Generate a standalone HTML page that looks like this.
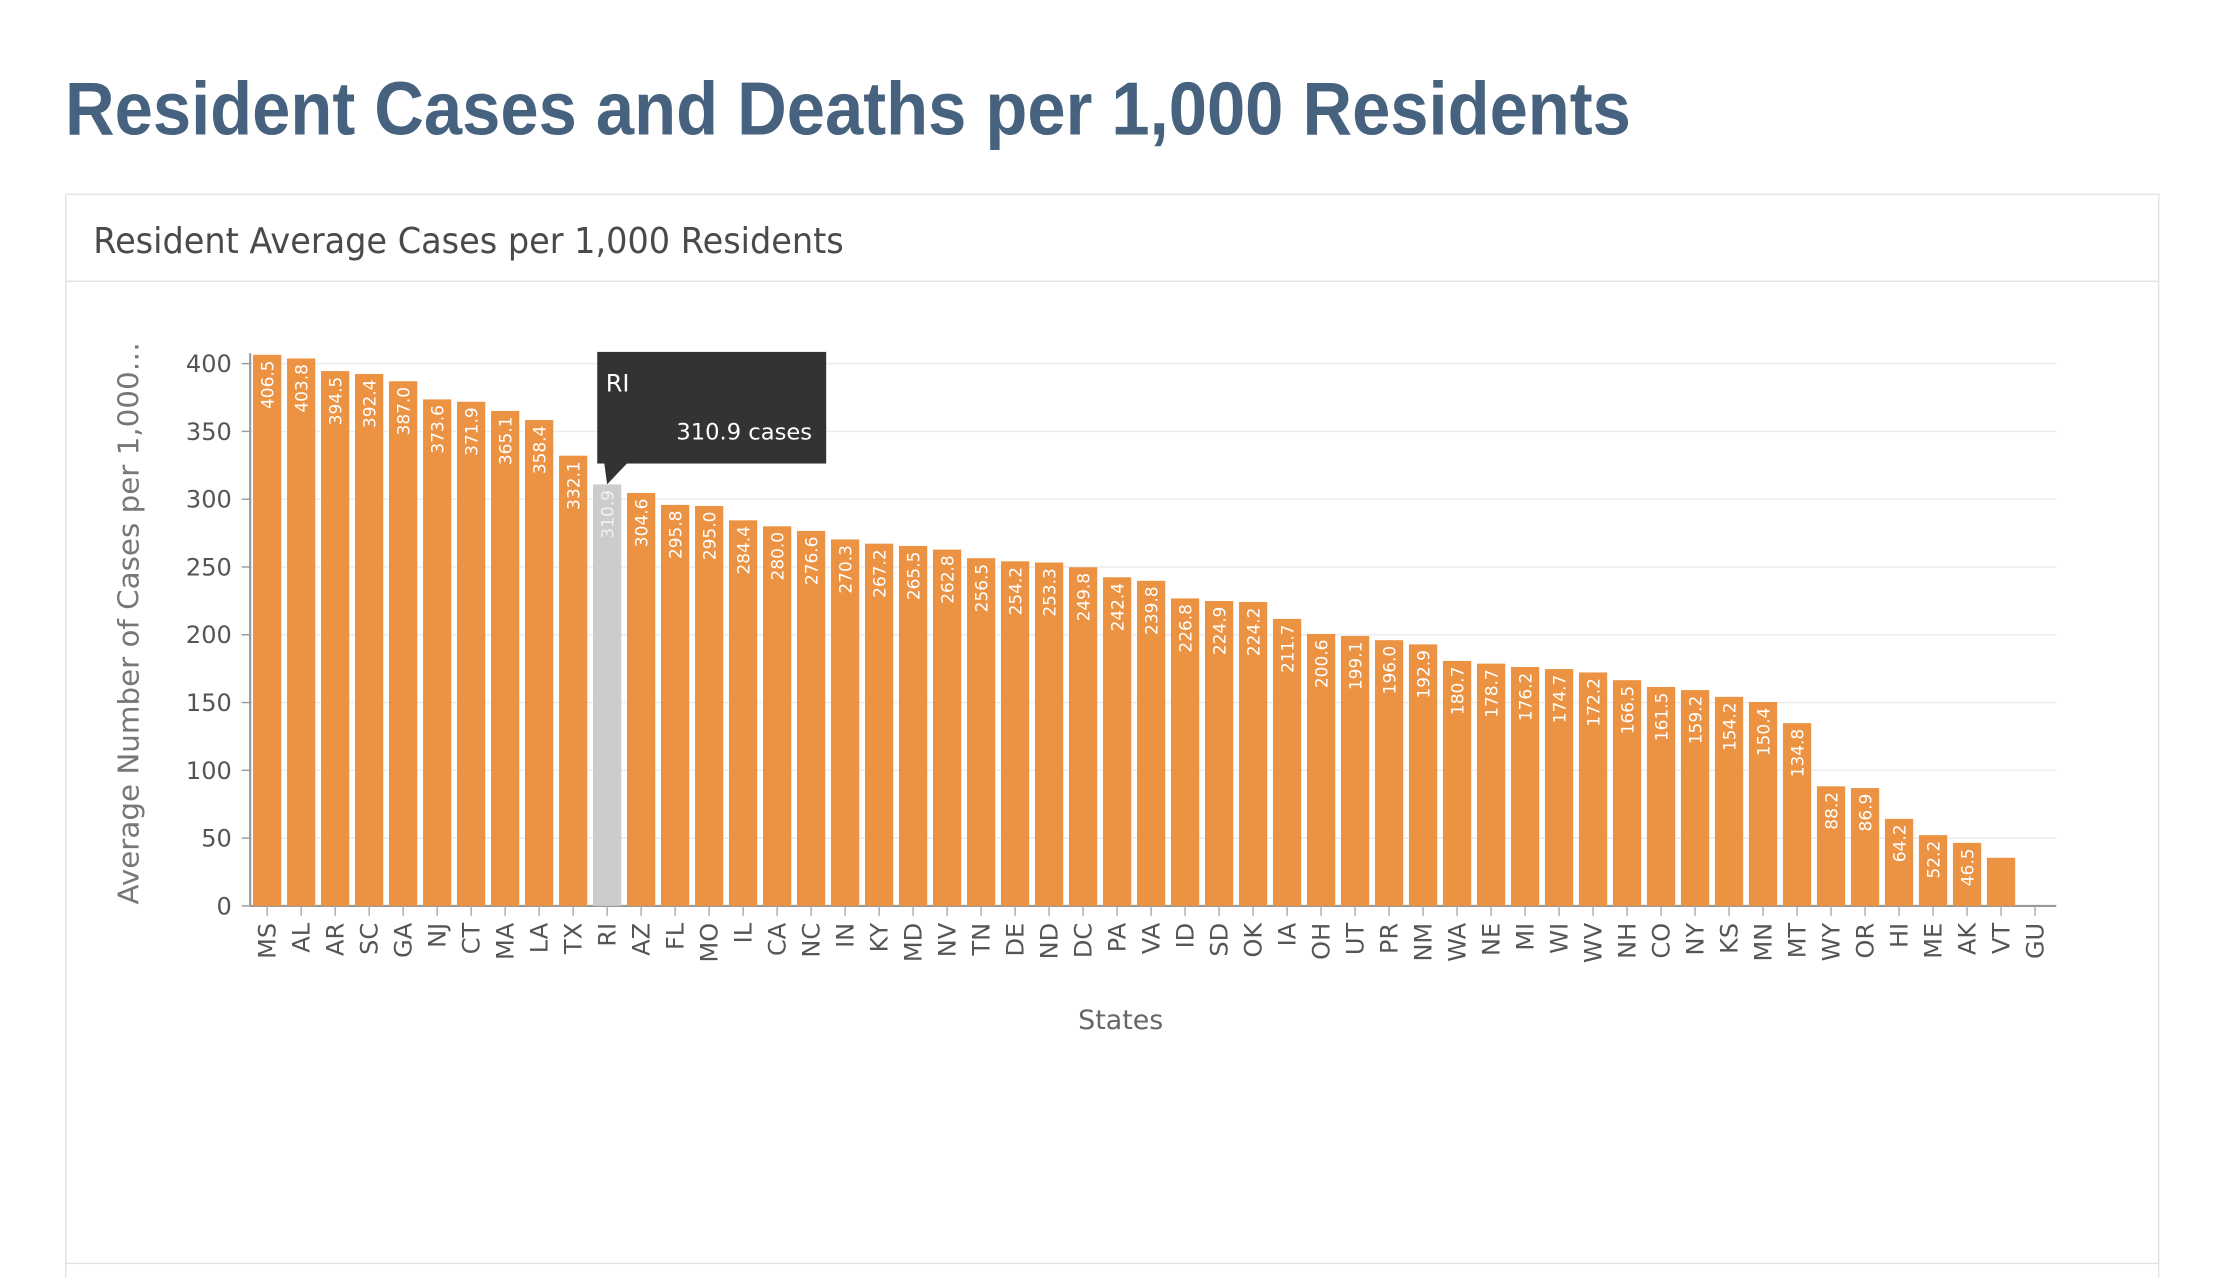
<!DOCTYPE html>
<html><head><meta charset="utf-8"><style>
html,body{margin:0;padding:0;background:#fff;}
svg{display:block;font-family:"DejaVu Sans","Liberation Sans",sans-serif;}
</style></head><body>
<svg id="page" width="2216" height="1278" viewBox="0 0 1568 904.3" xmlns="http://www.w3.org/2000/svg">
<text x="46" y="95" font-family="Liberation Sans, sans-serif" font-weight="bold" font-size="53" fill="#47627f" textLength="1108" lengthAdjust="spacingAndGlyphs">Resident Cases and Deaths per 1,000 Residents</text>
<rect x="46.5" y="137.5" width="1481" height="800" fill="none" stroke="#e3e3e3" stroke-width="1"/>
<line x1="46" x2="1528" y1="199" y2="199" stroke="#e3e3e3"/>
<line x1="46" x2="1528" y1="894" y2="894" stroke="#e3e3e3"/>
<text x="66" y="179" font-size="25" fill="#4a4a4a" textLength="531" lengthAdjust="spacingAndGlyphs">Resident Average Cases per 1,000 Residents</text>
<g id="chart"></g>
</svg>
<script>
const categories = ["MS","AL","AR","SC","GA","NJ","CT","MA","LA","TX","RI","AZ","FL","MO","IL","CA","NC","IN","KY","MD","NV","TN","DE","ND","DC","PA","VA","ID","SD","OK","IA","OH","UT","PR","NM","WA","NE","MI","WI","WV","NH","CO","NY","KS","MN","MT","WY","OR","HI","ME","AK","VT","GU"];
const values = [406.5,403.8,394.5,392.4,387.0,373.6,371.9,365.1,358.4,332.1,310.9,304.6,295.8,295.0,284.4,280.0,276.6,270.3,267.2,265.5,262.8,256.5,254.2,253.3,249.8,242.4,239.8,226.8,224.9,224.2,211.7,200.6,199.1,196.0,192.9,180.7,178.7,176.2,174.7,172.2,166.5,161.5,159.2,154.2,150.4,134.8,88.2,86.9,64.2,52.2,46.5,35.5,null];
const yTicks = [0,50,100,150,200,250,300,350,400];
const highlighted = "RI";

const NS="http://www.w3.org/2000/svg";
const g=document.getElementById('chart');
const X0=177, X1=1452, Y0=641, Ymax=400, Ypx=257.3, GRIDR=1455;
const step=(X1-X0)/categories.length, bw=20;
function y(v){return Y0-(v/Ymax)*(Y0-Ypx);}
function xc(i){return X0+step*(i+0.5);}
function mk(tag,attrs,parent){const e=document.createElementNS(NS,tag);for(const k in attrs)e.setAttribute(k,attrs[k]);(parent||g).appendChild(e);return e;}

yTicks.forEach(t=>{
  const gl=mk('line',{x1:X0,x2:GRIDR,y1:y(t),y2:y(t),stroke:t===0?'#999':'#ececec','stroke-width':t===0?1.5:1});
  
  
  const tk=mk('line',{x1:X0-6,x2:X0,y1:y(t),y2:y(t),stroke:'#999'});
  
  
  const tl=mk('text',{x:X0-13,y:y(t)+6,'text-anchor':'end','font-size':17,fill:'#555'});
  tl.textContent=t;
  
  
});
const ax=mk('line',{x1:X0,x2:X0,y1:250,y2:Y0,stroke:'#999','stroke-width':1.5});



categories.forEach((c,i)=>{
  const v=values[i], cx=xc(i);
  if(v!==null){
    const r=mk('rect',{x:cx-bw/2,y:y(v),width:bw,height:Y0-y(v),fill:c===highlighted?'#cccccc':'#eb9343'});
    
    
    if(v>40){
      const l=mk('text',{transform:`translate(${cx+4.5},${y(v)+4}) rotate(-90)`,'text-anchor':'end','font-size':12,fill:c===highlighted?'#f2f2f2':'#fff'});
      l.textContent=v.toFixed(1);
      
      
    }
  }
  const tk=mk('line',{x1:cx,x2:cx,y1:Y0,y2:Y0+7,stroke:'#aaa'});
  
  
  const xl=mk('text',{transform:`translate(${cx+6},${Y0+12}) rotate(-90)`,'text-anchor':'end','font-size':17,fill:'#555'});
  xl.textContent=c;
  
  
});

const xt=mk('text',{x:793,y:728,'text-anchor':'middle','font-size':19,fill:'#666'});
xt.textContent='States';


const yt=mk('text',{transform:'translate(98,441) rotate(-90)','text-anchor':'middle','font-size':20,fill:'#777',textLength:398,lengthAdjust:'spacingAndGlyphs'});
yt.textContent='Average Number of Cases per 1,000…';



// tooltip
const hi=categories.indexOf(highlighted);
const hv=values[hi], hx=xc(hi);
const tg=mk('g',{});


mk('rect',{x:hx-7,y:249,width:162,height:79,fill:'#333'},tg);
mk('path',{d:`M ${hx-2} 328 L ${hx} ${y(hv)} L ${hx+14} 328 Z`,fill:'#333'},tg);
const t1=mk('text',{x:hx-1,y:277,'font-size':17,fill:'#fff'},tg);
t1.textContent=highlighted;
const t2=mk('text',{x:hx+145,y:311,'text-anchor':'end','font-size':16,fill:'#fff'},tg);
t2.textContent=hv.toFixed(1)+' cases';
</script>
</body></html>
